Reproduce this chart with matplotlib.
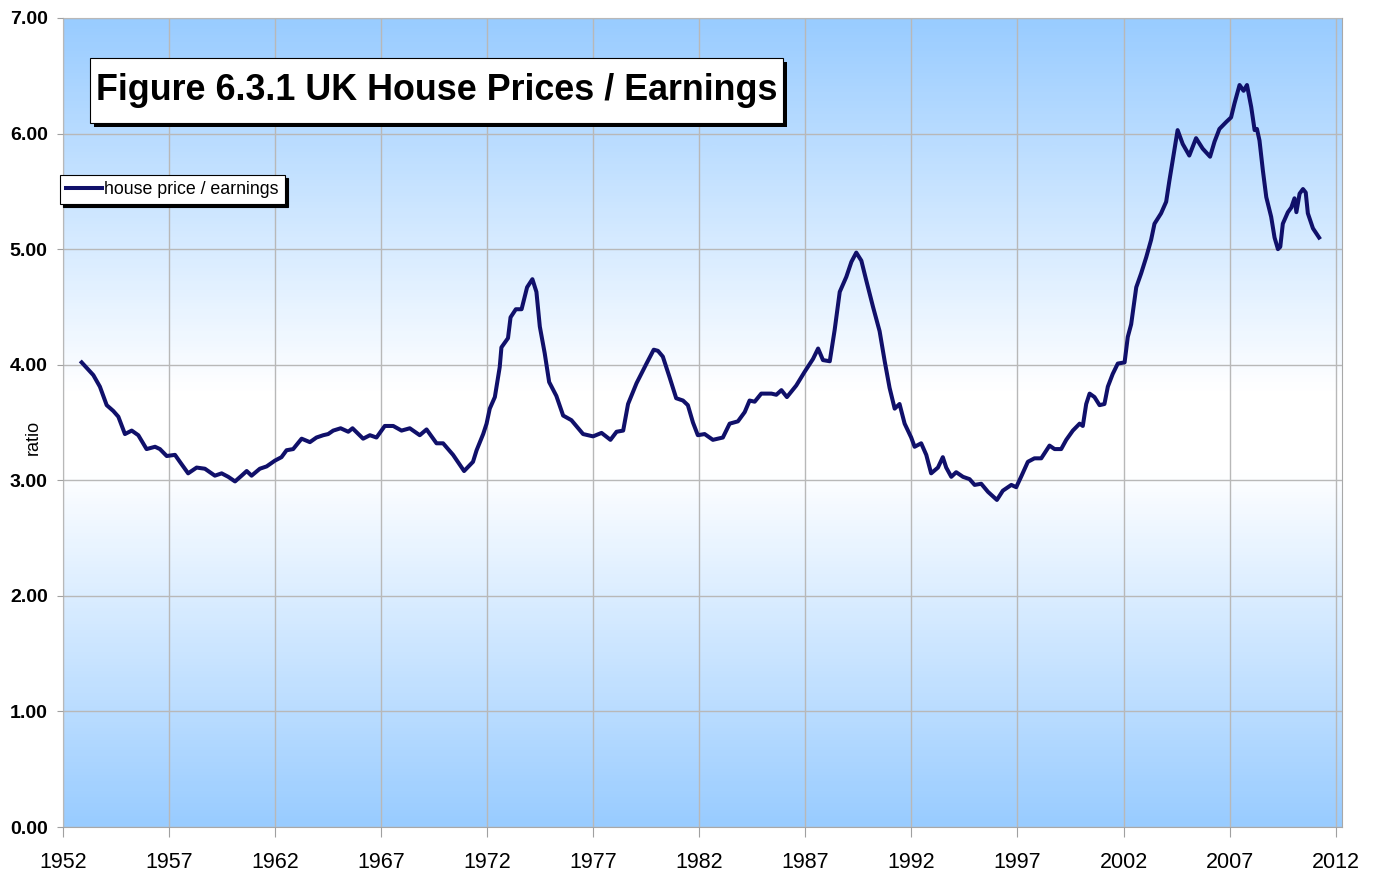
import numpy as np
import matplotlib
matplotlib.use("Agg")
import matplotlib.pyplot as plt
from matplotlib.colors import LinearSegmentedColormap
from matplotlib.patches import Rectangle
from matplotlib.ticker import FormatStrFormatter

plt.rcParams['font.family'] = ['Liberation Sans', 'DejaVu Sans']

# (year, house price / earnings ratio)
years = [1952.88, 1953.43, 1953.74, 1954.06, 1954.37, 1954.61, 1954.92, 1955.24, 1955.55, 1955.94,
         1956.34, 1956.57, 1956.89, 1957.28, 1957.51, 1957.90, 1958.30, 1958.69, 1959.16, 1959.48,
         1959.79, 1960.11, 1960.42, 1960.66, 1960.89, 1961.28, 1961.60, 1961.99, 1962.30, 1962.54,
         1962.85, 1963.25, 1963.64, 1963.95, 1964.27, 1964.50, 1964.74, 1965.09, 1965.45, 1965.65,
         1966.15, 1966.47, 1966.78, 1967.17, 1967.57, 1967.96, 1968.35, 1968.82, 1969.14, 1969.61,
         1969.92, 1970.39, 1970.91, 1971.33, 1971.50, 1971.81, 1971.97, 1972.12, 1972.36, 1972.59,
         1972.67, 1972.98, 1973.10, 1973.35, 1973.62, 1973.88, 1974.13, 1974.32, 1974.48, 1974.71,
         1974.92, 1975.26, 1975.58, 1975.97, 1976.52, 1976.99, 1977.39, 1977.81, 1978.10, 1978.41,
         1978.64, 1979.04, 1979.51, 1979.85, 1980.05, 1980.28, 1980.60, 1980.91, 1981.23, 1981.46,
         1981.70, 1981.93, 1982.25, 1982.64, 1983.11, 1983.43, 1983.82, 1984.14, 1984.37, 1984.61,
         1984.92, 1985.40, 1985.63, 1985.87, 1986.13, 1986.57, 1986.97, 1987.36, 1987.60, 1987.83,
         1988.15, 1988.38, 1988.62, 1988.93, 1989.17, 1989.40, 1989.64, 1989.87, 1990.19, 1990.50,
         1990.74, 1990.97, 1991.21, 1991.44, 1991.68, 1991.99, 1992.15, 1992.46, 1992.70, 1992.93,
         1993.25, 1993.48, 1993.64, 1993.88, 1994.11, 1994.43, 1994.74, 1994.98, 1995.29, 1995.61,
         1996.03, 1996.31, 1996.71, 1996.94, 1997.17, 1997.49, 1997.80, 1998.12, 1998.51, 1998.75,
         1999.06, 1999.30, 1999.61, 1999.93, 2000.08, 2000.24, 2000.40, 2000.63, 2000.87, 2001.10,
         2001.26, 2001.49, 2001.73, 2002.05, 2002.20, 2002.36, 2002.60, 2002.83, 2003.07, 2003.30,
         2003.46, 2003.77, 2004.01, 2004.16, 2004.32, 2004.55, 2004.79, 2005.10, 2005.42, 2005.73,
         2006.08, 2006.29, 2006.52, 2006.84, 2007.07, 2007.23, 2007.47, 2007.66, 2007.82, 2008.02,
         2008.18, 2008.29, 2008.41, 2008.57, 2008.73, 2008.96, 2009.12, 2009.28, 2009.39, 2009.51,
         2009.75, 2009.91, 2010.06, 2010.15, 2010.30, 2010.46, 2010.59, 2010.69, 2010.93, 2011.22]
ratio = [4.02, 3.91, 3.81, 3.65, 3.60, 3.55, 3.40, 3.43, 3.39, 3.27,
         3.29, 3.27, 3.21, 3.22, 3.16, 3.06, 3.11, 3.10, 3.04, 3.06,
         3.03, 2.99, 3.04, 3.08, 3.04, 3.10, 3.12, 3.17, 3.20, 3.26,
         3.27, 3.36, 3.33, 3.37, 3.39, 3.40, 3.43, 3.45, 3.42, 3.45,
         3.36, 3.39, 3.37, 3.47, 3.47, 3.43, 3.45, 3.39, 3.44, 3.32,
         3.32, 3.22, 3.08, 3.16, 3.26, 3.40, 3.49, 3.62, 3.72, 3.98,
         4.15, 4.23, 4.41, 4.48, 4.48, 4.67, 4.74, 4.63, 4.33, 4.10,
         3.85, 3.73, 3.56, 3.52, 3.40, 3.38, 3.41, 3.35, 3.42, 3.43,
         3.66, 3.84, 4.01, 4.13, 4.12, 4.07, 3.89, 3.71, 3.69, 3.65,
         3.50, 3.39, 3.40, 3.35, 3.37, 3.49, 3.51, 3.59, 3.69, 3.68,
         3.75, 3.75, 3.74, 3.78, 3.72, 3.82, 3.94, 4.05, 4.14, 4.04,
         4.03, 4.30, 4.63, 4.76, 4.89, 4.97, 4.90, 4.73, 4.50, 4.29,
         4.03, 3.80, 3.62, 3.66, 3.49, 3.37, 3.29, 3.32, 3.22, 3.06,
         3.11, 3.20, 3.11, 3.03, 3.07, 3.03, 3.01, 2.96, 2.97, 2.90,
         2.83, 2.91, 2.96, 2.94, 3.03, 3.16, 3.19, 3.19, 3.30, 3.27,
         3.27, 3.35, 3.43, 3.49, 3.47, 3.66, 3.75, 3.72, 3.65, 3.66,
         3.81, 3.92, 4.01, 4.02, 4.24, 4.35, 4.67, 4.79, 4.93, 5.08,
         5.22, 5.31, 5.41, 5.59, 5.77, 6.03, 5.91, 5.81, 5.96, 5.87,
         5.80, 5.93, 6.04, 6.10, 6.14, 6.26, 6.42, 6.37, 6.42, 6.23,
         6.03, 6.04, 5.94, 5.68, 5.45, 5.28, 5.10, 5.00, 5.02, 5.22,
         5.32, 5.36, 5.44, 5.32, 5.48, 5.52, 5.49, 5.31, 5.18, 5.10]

x_ticks = list(range(1952, 2013, 5))
y_ticks = list(range(0, 8))

fig = plt.figure(figsize=(13.8, 8.76), dpi=100)
ax = fig.add_axes([63 / 1380, 49 / 876, 1279 / 1380, 809 / 876])

# blue - white - blue background gradient
cmap = LinearSegmentedColormap.from_list(
    "bg", [(0.0, "#99ccff"), (0.44, "#ffffff"), (0.54, "#ffffff"), (1.0, "#99ccff")])
grad = np.linspace(0, 1, 256).reshape(-1, 1)
ax.imshow(grad, cmap=cmap, aspect="auto", extent=[1952, 2012.3, 0, 7],
          origin="lower", zorder=0, interpolation="bilinear")

ax.plot(years, ratio, color="#10106a", lw=2.9, zorder=3, label="house price / earnings",
        solid_joinstyle="round")

ax.set_xlim(1952, 2012.3)
ax.set_ylim(0, 7)
ax.set_xticks(x_ticks)
ax.set_yticks(y_ticks)
ax.yaxis.set_major_formatter(FormatStrFormatter("%.2f"))
ax.grid(True, color="#b8b8b8", lw=1.0, zorder=1)
ax.set_axisbelow(False)
for s in ax.spines.values():
    s.set_color("#a8a8a8")
    s.set_zorder(2)
ax.tick_params(axis="x", colors="#a0a0a0", labelcolor="black", labelsize=15.5, length=7, pad=11)
ax.tick_params(axis="y", colors="#a0a0a0", labelcolor="black", labelsize=14, length=4, pad=7)
for lab in ax.get_yticklabels():
    lab.set_fontweight("bold")
ax.set_ylabel("ratio", fontsize=13)
ax.yaxis.set_label_coords(-0.0165, 0.482)

# legend with black drop shadow
leg = ax.legend(loc="upper left", bbox_to_anchor=(60 / 1380, 1 - 175 / 876),
                bbox_transform=fig.transFigure, borderaxespad=0, fontsize=12.8,
                handlelength=2.0, handletextpad=0.15, borderpad=0.35, frameon=True,
                fancybox=False, framealpha=1, edgecolor="black",
                shadow={"color": "black", "alpha": 1})
leg.get_frame().set_linewidth(0.8)

# title box with shadow
W, H = 1380, 876
bx, by, bw, bh = 90, 58, 693, 65
fig.add_artist(Rectangle(((bx + 4) / W, 1 - (by + bh + 4) / H), bw / W, bh / H,
                         transform=fig.transFigure, facecolor="black", edgecolor="none", zorder=5))
fig.add_artist(Rectangle((bx / W, 1 - (by + bh) / H), bw / W, bh / H,
                         transform=fig.transFigure, facecolor="white", edgecolor="black",
                         lw=0.8, zorder=6))
fig.text((bx + bw / 2) / W, 1 - (by + bh / 2) / H, "Figure 6.3.1 UK House Prices / Earnings",
         ha="center", va="center", fontsize=25.8, fontweight="bold", zorder=7)

fig.savefig("out.png", dpi=100, facecolor="white")
